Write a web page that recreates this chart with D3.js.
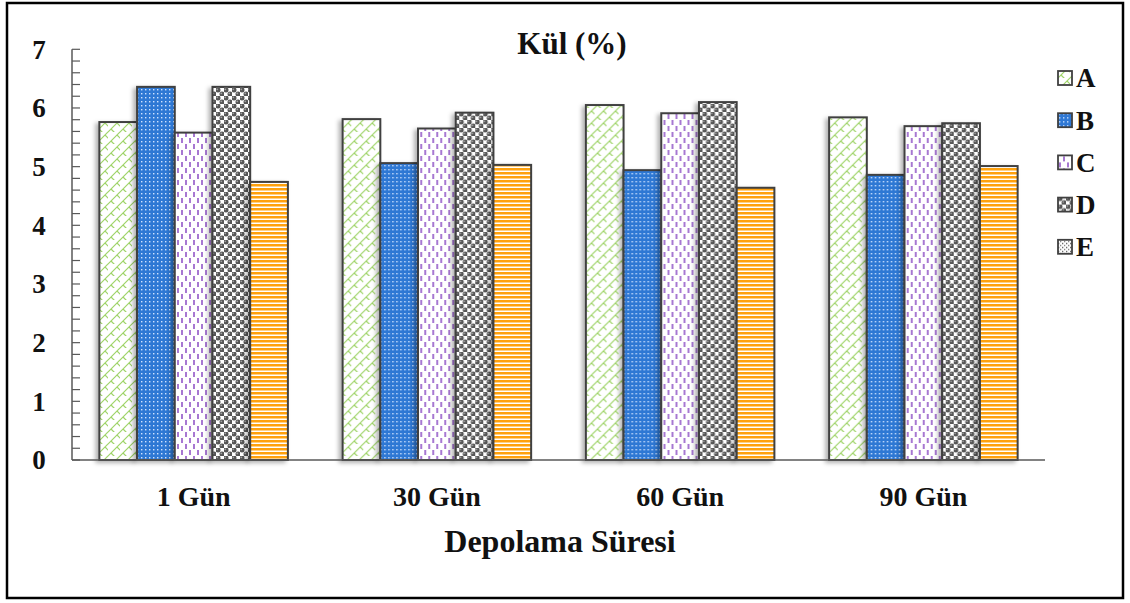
<!DOCTYPE html>
<html>
<head>
<meta charset="utf-8">
<script src="https://cdn.jsdelivr.net/npm/d3@7"></script>
<style>
  html, body { margin: 0; padding: 0; background: #fff; }
  svg { display: block; }
  text { font-family: "Liberation Serif", "Times New Roman", serif; font-weight: bold; fill: #111; }
</style>
</head>
<body>
<svg id="chart" width="1130" height="603"></svg>
<script>
// Storage periods and the five samples
const categories = ["1 Gün", "30 Gün", "60 Gün", "90 Gün"];
const seriesNames = ["A", "B", "C", "D", "E"];
// Ash content (%) per sample, one value per storage period
const valuesA = [5.76, 5.81, 6.05, 5.84];
const valuesB = [6.36, 5.06, 4.94, 4.86];
const valuesC = [5.58, 5.65, 5.91, 5.69];
const valuesD = [6.36, 5.92, 6.10, 5.74];
const valuesE = [4.74, 5.03, 4.64, 5.01];
const yTicks = [0, 1, 2, 3, 4, 5, 6, 7];

const series = [valuesA, valuesB, valuesC, valuesD, valuesE];

const svg = d3.select("#chart");
const defs = svg.append("defs");

// Hatch fills for each sample
function pattern(id, w, h, draw) {
  const p = defs.append("pattern").attr("id", id)
    .attr("patternUnits", "userSpaceOnUse").attr("width", w).attr("height", h);
  draw(p);
  return `url(#${id})`;
}

const fills = [
  pattern("pA", 12, 12, p => {
    p.append("rect").attr("width", 12).attr("height", 12).attr("fill", "#fff");
    p.append("path").attr("d", "M-3,15 L15,-3 M-3,3 L3,-3 M9,15 L15,9 M3,9 L7,13 M9,3 L13,7")
      .attr("stroke", "#9fd469").attr("stroke-width", 1.2).attr("fill", "none");
  }),
  pattern("pB", 4, 4, p => {
    p.append("rect").attr("width", 4).attr("height", 4).attr("fill", "#2f78d4");
    p.append("rect").attr("x", 1).attr("y", 1).attr("width", 1.4).attr("height", 1.4).attr("fill", "#cfe3ff");
  }),
  pattern("pC", 8, 12, p => {
    p.append("rect").attr("width", 8).attr("height", 12).attr("fill", "#fff");
    p.append("path").attr("d", "M2,0 L2,5 M6,6 L6,11")
      .attr("stroke", "#8a4bc4").attr("stroke-width", 1.5);
  }),
  pattern("pD", 8, 8, p => {
    p.append("rect").attr("width", 8).attr("height", 8).attr("fill", "#fff");
    p.append("circle").attr("cx", 2).attr("cy", 2).attr("r", 2.5).attr("fill", "#555");
    p.append("circle").attr("cx", 6).attr("cy", 6).attr("r", 2.5).attr("fill", "#555");
    p.append("circle").attr("cx", 1.3).attr("cy", 1.3).attr("r", 0.9).attr("fill", "#a0a0a0");
    p.append("circle").attr("cx", 5.3).attr("cy", 5.3).attr("r", 0.9).attr("fill", "#a0a0a0");
  }),
  pattern("pE", 4, 4, p => {
    p.append("rect").attr("width", 4).attr("height", 4).attr("fill", "#fff");
    p.append("rect").attr("y", 0).attr("width", 4).attr("height", 2.5).attr("fill", "#ffa10a");
  })
];

// Speckled swatch used by the E legend key
const legendFillE = pattern("pEl", 4, 4, p => {
  p.append("rect").attr("width", 4).attr("height", 4).attr("fill", "#fff");
  p.append("rect").attr("x", 0).attr("y", 0).attr("width", 1.3).attr("height", 1.3).attr("fill", "#555");
  p.append("rect").attr("x", 2).attr("y", 2).attr("width", 1.3).attr("height", 1.3).attr("fill", "#777");
});

const shadow = defs.append("filter").attr("id", "shadow")
  .attr("x", "-30%").attr("y", "-10%").attr("width", "160%").attr("height", "120%");
shadow.append("feDropShadow").attr("dx", -3).attr("dy", 2).attr("stdDeviation", 2)
  .attr("flood-color", "#000").attr("flood-opacity", 0.3);

// Outer frame
svg.append("rect").attr("x", 7).attr("y", 3).attr("width", 1116).attr("height", 595)
  .attr("fill", "#fff").attr("stroke", "#000").attr("stroke-width", 2.5);

const plotLeft = 72, plotRight = 1045, plotTop = 49.3, plotBottom = 460;

const y = d3.scaleLinear().domain([0, 7]).range([plotBottom, plotTop]);
const x0 = d3.scaleBand().domain(categories).range([plotLeft, plotRight]).padding(0);
const gap = x0.step() * 0.225;
const x1 = d3.scaleBand().domain(seriesNames).range([gap / 2, x0.bandwidth() - gap / 2]).padding(0);

// Bars
const groups = svg.append("g").selectAll("g").data(categories).join("g")
  .attr("transform", c => `translate(${x0(c)},0)`);

groups.selectAll("rect")
  .data((c, ci) => seriesNames.map((s, si) => ({ s, si, v: series[si][ci] })))
  .join("rect")
  .attr("x", d => x1(d.s))
  .attr("y", d => y(d.v))
  .attr("width", x1.bandwidth())
  .attr("height", d => y(0) - y(d.v))
  .attr("fill", d => fills[d.si])
  .attr("stroke", "#404040").attr("stroke-width", 2)
  .attr("filter", "url(#shadow)");

// Y axis with minor ticks every 0.2, drawn inside the plot
const yAxis = svg.append("g").attr("transform", `translate(${plotLeft},0)`);
yAxis.append("line").attr("y1", plotTop).attr("y2", plotBottom).attr("stroke", "#595959").attr("stroke-width", 1.5);
const minor = d3.range(0, 35 + 1).map(i => i / 5);
yAxis.selectAll(".tk").data(minor).join("line")
  .attr("x1", 0).attr("x2", 8)
  .attr("y1", d => y(d)).attr("y2", d => y(d))
  .attr("stroke", "#595959").attr("stroke-width", 1.2);
yAxis.selectAll(".lbl").data(yTicks).join("text")
  .attr("x", -33).attr("y", d => y(d)).attr("dy", "0.35em")
  .attr("text-anchor", "middle").attr("font-size", 27)
  .text(d => d);

// X axis baseline
svg.append("line").attr("x1", plotLeft).attr("x2", plotRight).attr("y1", plotBottom).attr("y2", plotBottom)
  .attr("stroke", "#595959").attr("stroke-width", 1.5);

svg.append("g").selectAll("text").data(categories).join("text")
  .attr("x", c => x0(c) + x0.bandwidth() / 2).attr("y", 496).attr("dy", "0.35em")
  .attr("text-anchor", "middle").attr("font-size", 28)
  .text(c => c);

// Titles
svg.append("text").attr("x", 572).attr("y", 43).attr("dy", "0.35em")
  .attr("text-anchor", "middle").attr("font-size", 31).text("Kül (%)");
svg.append("text").attr("x", 560).attr("y", 541).attr("dy", "0.35em")
  .attr("text-anchor", "middle").attr("font-size", 32).text("Depolama Süresi");

// Legend
const legendFills = [fills[0], fills[1], fills[2], fills[3], legendFillE];
const legend = svg.append("g").selectAll("g").data(seriesNames).join("g")
  .attr("transform", (d, i) => `translate(1058,${78 + i * 42.2})`);
legend.append("rect").attr("x", 0).attr("y", -7).attr("width", 14).attr("height", 14)
  .attr("fill", (d, i) => legendFills[i]).attr("stroke", "#404040").attr("stroke-width", 1.8);
legend.append("text").attr("x", 18).attr("y", 0).attr("dy", "0.35em")
  .attr("font-size", 27).text(d => d);
</script>
</body>
</html>
